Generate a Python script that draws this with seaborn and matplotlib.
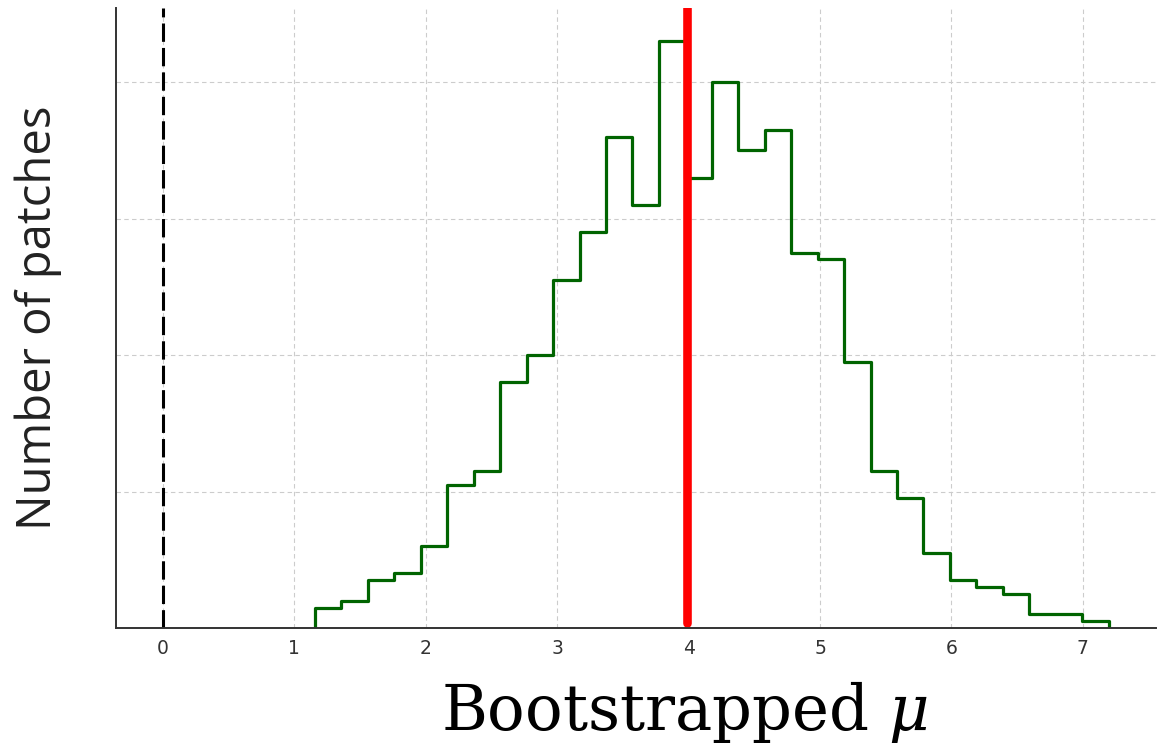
import numpy as np
import pandas as pd
import seaborn as sns
import matplotlib.pyplot as plt

# bootstrap histogram, 30 bins (about 1000 resamples)
bin_start = 1.157
bin_width = 0.2013
counts = [3, 4, 7, 8, 12, 21, 23, 36, 40, 51, 58, 72, 62, 86, 66,
          80, 70, 73, 55, 54, 39, 23, 19, 11, 7, 6, 5, 2, 2, 1]
observed_mu = 3.99
null_mu = 0.0
x_ticks = [0, 1, 2, 3, 4, 5, 6, 7]
y_ticks = [0, 20, 40, 60, 80]

edges = bin_start + bin_width * np.arange(len(counts) + 1)
df = pd.DataFrame({"mu": (edges[:-1] + edges[1:]) / 2, "n": counts})

sns.set_style("white")
plt.rcParams["font.family"] = ["DejaVu Sans"]
plt.rcParams["mathtext.fontset"] = "dejavuserif"

fig = plt.figure(figsize=(11.69, 7.54), dpi=100)
ax = fig.add_axes([0.0992, 0.167, 0.8898, 0.822])

# seaborn compares bins to "auto" when weights are given, so pass a list
sns.histplot(data=df, x="mu", weights="n", bins=list(edges), element="step",
             fill=False, color="darkgreen", linewidth=2.3, ax=ax)
# close the outline down to the baseline like plt.hist(histtype="step")
ax.vlines([edges[0], edges[-1]], 0, [counts[0], counts[-1]],
          color="darkgreen", linewidth=2.3)

ax.axvline(null_mu, color="black", linewidth=2.2, linestyle=(0, (6, 2)))
ax.axvline(observed_mu, color="red", linewidth=6.2, ymin=0.008)

ax.set_xlim(-0.357, 7.557)
ax.set_ylim(0, 90.8)
ax.set_xticks(x_ticks)
ax.set_yticks(y_ticks)
ax.set_yticklabels([])
ax.grid(True, linestyle=(0, (4, 3)), color="#cccccc", linewidth=0.8)
ax.tick_params(direction="in", length=5, width=1, color="#333333",
               labelcolor="#333333", labelsize=13.5, pad=8)
for side in ["top", "right"]:
    ax.spines[side].set_visible(False)
for side in ["left", "bottom"]:
    ax.spines[side].set_color("#333333")
    ax.spines[side].set_linewidth(1.4)

ax.set_ylabel("Number of patches", fontsize=34, family=["Open Sans", "DejaVu Sans"],
              color="#222222")
ax.yaxis.set_label_coords(-0.052, 0.5)
ax.set_xlabel(r"Bootstrapped $\mu$", fontsize=45, family=["DejaVu Serif"],
              color="black")
ax.xaxis.set_label_coords(0.547, -0.082)

fig.savefig("out.png", dpi=100)
